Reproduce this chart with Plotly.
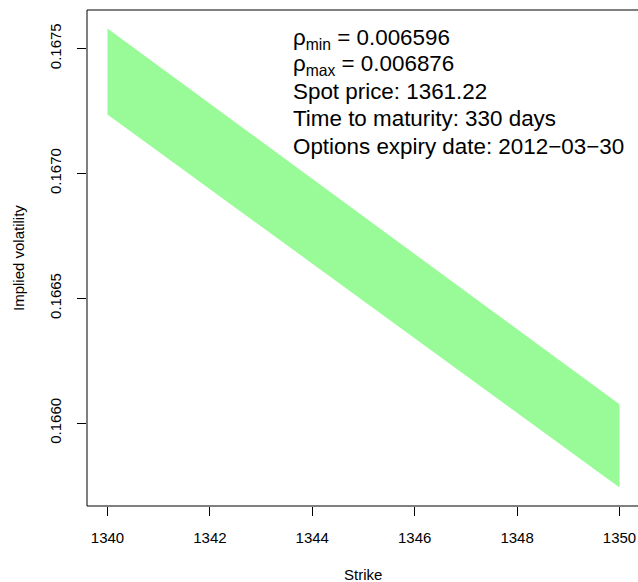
import plotly.graph_objects as go

# Data
strikes = [1340, 1350]
iv_upper = [0.16758, 0.166075]
iv_lower = [0.167236, 0.165742]

x_ticks = [1340, 1342, 1344, 1346, 1348, 1350]
y_ticks = [0.1660, 0.1665, 0.1670, 0.1675]
y_tick_labels = ["0.1660", "0.1665", "0.1670", "0.1675"]

info_lines = [
    "ρ<sub>min</sub> = 0.006596",
    "ρ<sub>max</sub> = 0.006876",
    "Spot price: 1361.22",
    "Time to maturity: 330 days",
    "Options expiry date: 2012\u221203\u221230",
]

FONT = "Liberation Sans, Arial, Helvetica, sans-serif"

W, H = 638, 582
L, R, T, B = 87, 0, 10, 76
pw = W - L - R
ph = H - T - B

poly_x = strikes + strikes[::-1]
poly_y = iv_upper + iv_lower[::-1]

fig = go.Figure()
fig.add_trace(go.Scatter(
    x=poly_x, y=poly_y, mode="lines", fill="toself",
    fillcolor="#98FB98", line=dict(width=0, color="#98FB98"),
    hoverinfo="skip", showlegend=False,
))

# x range: R-style 4% padding, right edge clipped by the canvas
px_per_unit = 51.2
x0 = 1339.6
x1 = x0 + pw / px_per_unit

fig.update_layout(
    width=W, height=H,
    margin=dict(l=L, r=R, t=T, b=B, pad=0),
    paper_bgcolor="white", plot_bgcolor="white",
    font=dict(family=FONT, size=15, color="black"),
    showlegend=False,
    xaxis=dict(
        range=[x0, x1], tickmode="array", tickvals=x_ticks,
        ticktext=[str(v) for v in x_ticks],
        ticks="outside", ticklen=9, tickwidth=1, tickcolor="black",
        showgrid=False, zeroline=False, showline=False,
        tickfont=dict(family=FONT, size=15, color="black"),
        ticklabelstandoff=9,
    ),
    yaxis=dict(
        range=[0.165668, 0.167654], tickmode="array", tickvals=y_ticks,
        ticktext=y_tick_labels, tickangle=-90,
        ticks="outside", ticklen=9, tickwidth=1, tickcolor="black",
        showgrid=False, zeroline=False, showline=False,
        tickfont=dict(family=FONT, size=15, color="black"),
        ticklabelstandoff=10,
    ),
)

# plot box (left, top, bottom; right edge falls outside the canvas)
for (xa, ya, xb, yb) in [(0, 0, 0, 1), (0, 1, 1, 1), (0, 0, 1, 0)]:
    fig.add_shape(type="line", xref="paper", yref="paper",
                  x0=xa, y0=ya, x1=xb, y1=yb,
                  line=dict(color="black", width=1))

# axis titles
fig.add_annotation(text="Strike", xref="paper", yref="paper",
                   x=(363 - L) / pw, y=(H - B - 574) / ph,
                   xanchor="center", yanchor="middle", showarrow=False,
                   font=dict(family=FONT, size=15, color="black"))
fig.add_annotation(text="Implied volatility", xref="paper", yref="paper",
                   x=(18 - L) / pw, y=0.5, textangle=-90,
                   xanchor="center", yanchor="middle", showarrow=False,
                   font=dict(family=FONT, size=15, color="black"))

# info text lines
line_centers = [38.5, 65, 92, 119, 146]
for txt, yc in zip(info_lines, line_centers):
    fig.add_annotation(text=txt, xref="paper", yref="paper",
                       x=(291 - L) / pw, y=(H - B - yc) / ph,
                       xanchor="left", yanchor="middle", showarrow=False,
                       font=dict(family=FONT, size=22.4, color="black"))

fig.write_html(
    "out.html",
    config={"displayModeBar": False},
    post_script="document.body.style.margin='0';document.body.style.overflow='hidden';",
)
